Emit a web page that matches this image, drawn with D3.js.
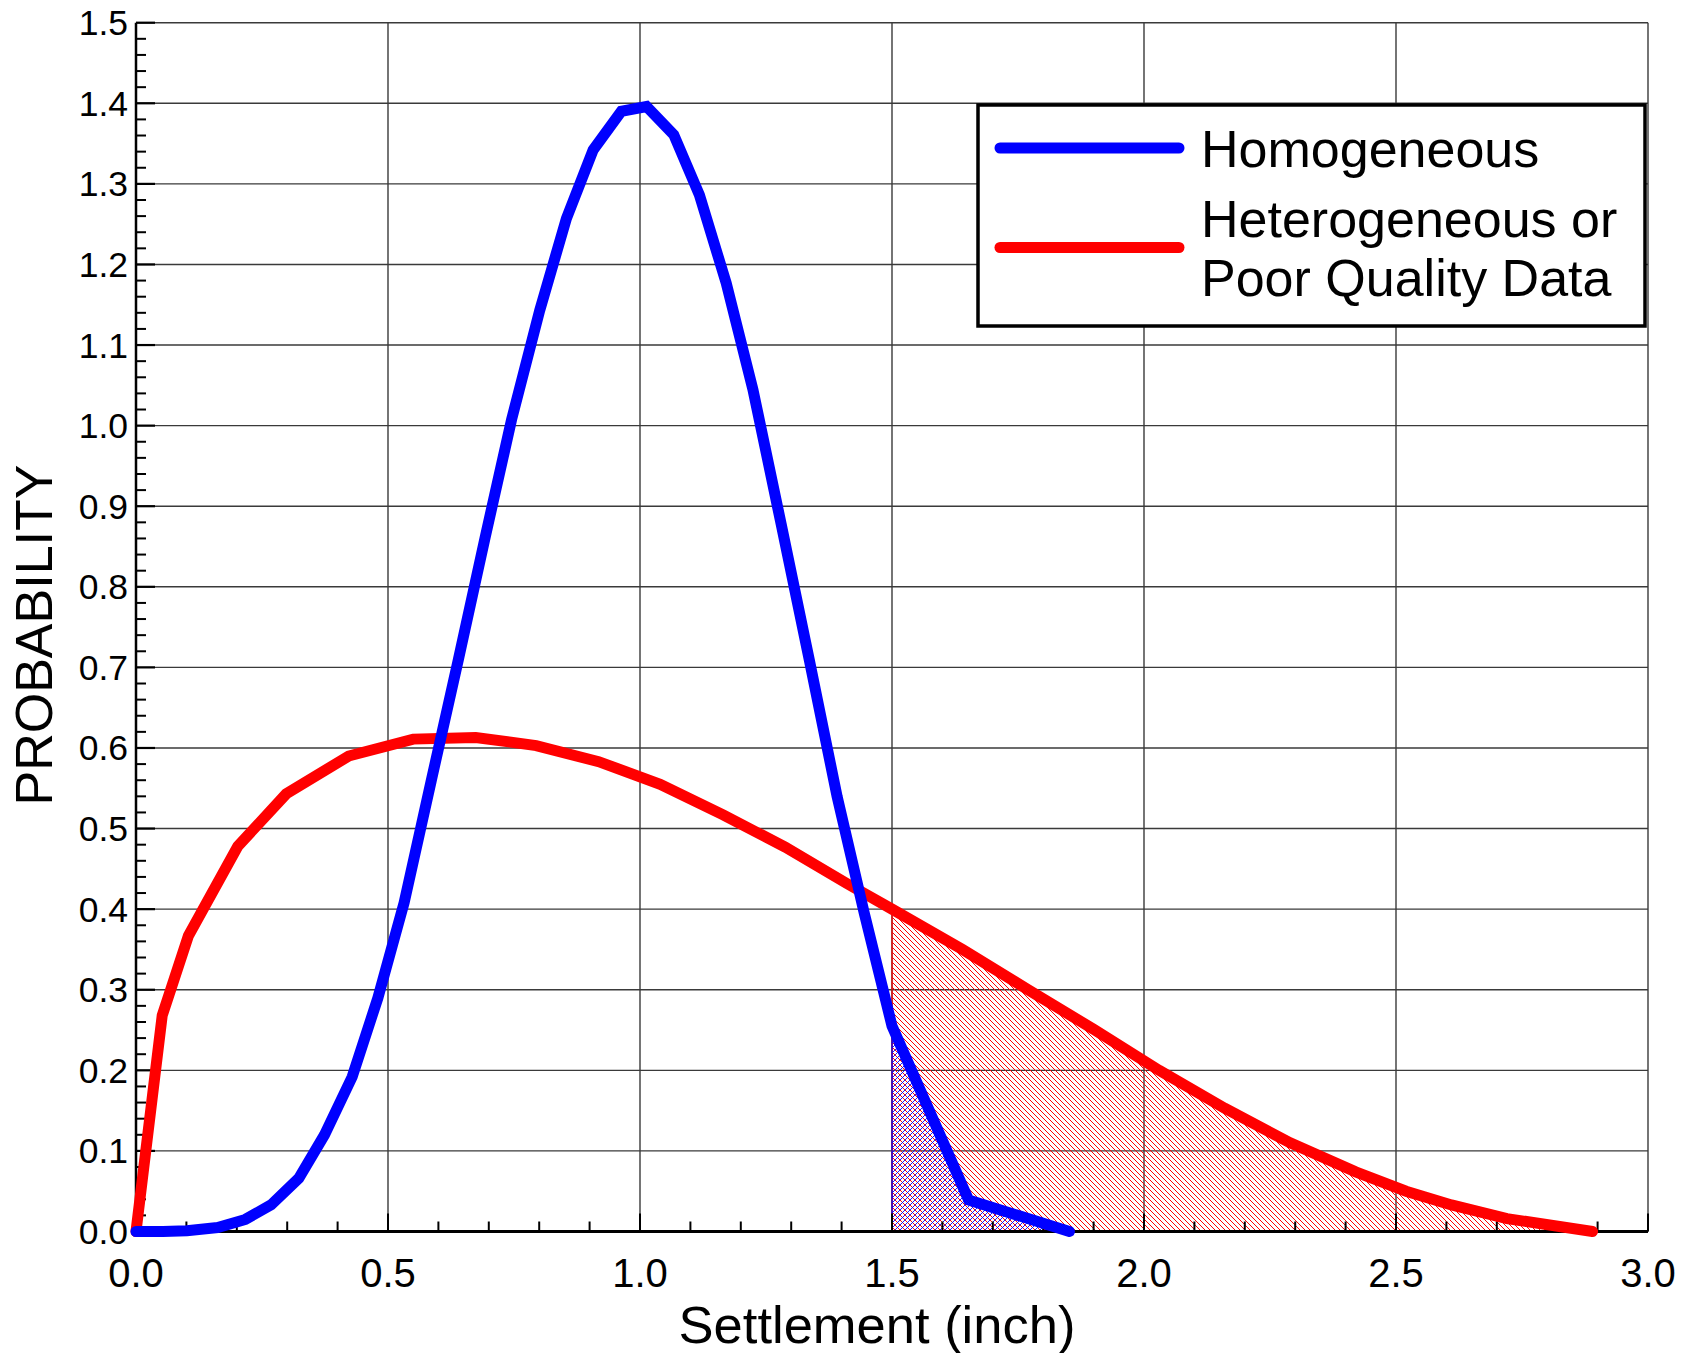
<!DOCTYPE html>
<html>
<head>
<meta charset="utf-8">
<script src="https://cdn.jsdelivr.net/npm/d3@7"></script>
<style>
  html, body { margin: 0; padding: 0; background: #fff; }
  svg { display: block; }
  text { font-family: "Liberation Sans", Arial, sans-serif; fill: #000; }
</style>
</head>
<body>
<svg id="chart" width="1694" height="1353"></svg>
<script>
// ---------------- data ----------------
const seriesNames = ["Homogeneous", "Heterogeneous or|Poor Quality Data"];

const homogeneousX = [0, 0.0535, 0.101, 0.162, 0.217, 0.268, 0.323, 0.374, 0.429, 0.480, 0.532, 0.586, 0.639, 0.693, 0.745, 0.801, 0.854, 0.907, 0.963, 1.013, 1.067, 1.118, 1.171, 1.224, 1.280, 1.336, 1.391, 1.445, 1.5, 1.652, 1.852];
const homogeneousY = [0, 0, 0.001, 0.005, 0.015, 0.033, 0.066, 0.120, 0.192, 0.290, 0.408, 0.560, 0.708, 0.862, 1.007, 1.143, 1.257, 1.342, 1.390, 1.396, 1.361, 1.286, 1.177, 1.045, 0.878, 0.709, 0.540, 0.395, 0.255, 0.039, 0];

const heterogeneousX = [0, 0.052, 0.104, 0.202, 0.298, 0.422, 0.550, 0.674, 0.794, 0.918, 1.040, 1.165, 1.288, 1.41, 1.5, 1.64, 1.77, 1.9, 2.03, 2.16, 2.29, 2.42, 2.52, 2.61, 2.72, 2.89];
const heterogeneousY = [0, 0.268, 0.367, 0.478, 0.543, 0.590, 0.611, 0.613, 0.603, 0.583, 0.555, 0.517, 0.477, 0.432, 0.400, 0.350, 0.300, 0.251, 0.200, 0.153, 0.110, 0.074, 0.050, 0.033, 0.016, 0];

const shadeFrom = 1.5;

const xTickValues = [0.0, 0.5, 1.0, 1.5, 2.0, 2.5, 3.0];
const xMinorValues = [0.1,0.2,0.3,0.4,0.6,0.7,0.8,0.9,1.1,1.2,1.3,1.4,1.6,1.7,1.8,1.9,2.1,2.2,2.3,2.4,2.6,2.7,2.8,2.9];
const yTickValues = [0.0,0.1,0.2,0.3,0.4,0.5,0.6,0.7,0.8,0.9,1.0,1.1,1.2,1.3,1.4,1.5];
const yMinorValues = d3.range(0, 76).map(i => i * 0.02).filter(v => Math.abs(v*10 - Math.round(v*10)) > 1e-6);

const xLabel = "Settlement (inch)";
const yLabel = "PROBABILITY";

// ---------------- layout ----------------
const svg = d3.select("#chart");
const x = d3.scaleLinear().domain([0, 3]).range([136, 1648]);
const y = d3.scaleLinear().domain([0, 1.5]).range([1231.5, 22.7]);

const blue = "#0000ff", red = "#ff0000";

// patterns
const defs = svg.append("defs");
const pr = defs.append("pattern").attr("id", "hatchRed").attr("patternUnits", "userSpaceOnUse")
  .attr("width", 5).attr("height", 5);
pr.append("path").attr("d", "M-1,-1 L6,6 M-1,4 L1,6 M4,-1 L6,1")
  .attr("stroke", red).attr("stroke-width", 1).attr("fill", "none");
const pb = defs.append("pattern").attr("id", "hatchBlue").attr("patternUnits", "userSpaceOnUse")
  .attr("width", 5).attr("height", 5);
pb.append("path").attr("d", "M-1,6 L6,-1 M-1,1 L1,-1 M4,6 L6,4")
  .attr("stroke", blue).attr("stroke-width", 0.9).attr("fill", "none");

// gridlines
const grid = svg.append("g");
grid.selectAll("line.h").data(yTickValues.slice(1)).join("line")
  .attr("x1", x(0)).attr("x2", x(3)).attr("y1", d => y(d)).attr("y2", d => y(d))
  .attr("stroke", "#3a3a3a").attr("stroke-width", 1.4);
grid.selectAll("line.v").data(xTickValues.slice(1)).join("line")
  .attr("y1", y(0)).attr("y2", y(1.5)).attr("x1", d => x(d)).attr("x2", d => x(d))
  .attr("stroke", "#3a3a3a").attr("stroke-width", 1.4);

// shaded areas
const redPts = heterogeneousX.map((v, i) => [v, heterogeneousY[i]]).filter(p => p[0] >= shadeFrom);
const bluePts = homogeneousX.map((v, i) => [v, homogeneousY[i]]).filter(p => p[0] >= shadeFrom);
const area = d3.area().x(d => x(d[0])).y0(y(0)).y1(d => y(d[1]));
svg.append("path").datum(redPts).attr("d", area)
  .attr("fill", "url(#hatchRed)").attr("stroke", red).attr("stroke-width", 1.2);
svg.append("path").datum(bluePts).attr("d", area)
  .attr("fill", "url(#hatchBlue)").attr("stroke", blue).attr("stroke-width", 1.2);

// axes
const yAxis = svg.append("g");
yAxis.append("line").attr("x1", x(0)).attr("x2", x(0)).attr("y1", y(0)).attr("y2", y(1.5))
  .attr("stroke", "#000").attr("stroke-width", 2.5);
yAxis.selectAll("line.maj").data(yTickValues).join("line")
  .attr("x1", x(0)).attr("x2", x(0) + 19).attr("y1", d => y(d)).attr("y2", d => y(d))
  .attr("stroke", "#000").attr("stroke-width", 2.2);
yAxis.selectAll("line.min").data(yMinorValues).join("line")
  .attr("x1", x(0)).attr("x2", x(0) + 10).attr("y1", d => y(d)).attr("y2", d => y(d))
  .attr("stroke", "#000").attr("stroke-width", 2);
yAxis.selectAll("text").data(yTickValues).join("text")
  .attr("x", 128).attr("y", d => y(d) + 12.5)
  .attr("text-anchor", "end").attr("font-size", 35.5)
  .text(d => d3.format(".1f")(d));

const xAxis = svg.append("g");
xAxis.append("line").attr("x1", x(0)).attr("x2", x(3)).attr("y1", y(0)).attr("y2", y(0))
  .attr("stroke", "#000").attr("stroke-width", 3);
xAxis.selectAll("line.maj").data(xTickValues).join("line")
  .attr("x1", d => x(d)).attr("x2", d => x(d)).attr("y1", y(0)).attr("y2", y(0) - 18)
  .attr("stroke", "#000").attr("stroke-width", 2);
xAxis.selectAll("line.min").data(xMinorValues).join("line")
  .attr("x1", d => x(d)).attr("x2", d => x(d)).attr("y1", y(0)).attr("y2", y(0) - 10)
  .attr("stroke", "#000").attr("stroke-width", 2);
xAxis.selectAll("text").data(xTickValues).join("text")
  .attr("x", d => x(d)).attr("y", 1287)
  .attr("text-anchor", "middle").attr("font-size", 40)
  .text(d => d3.format(".1f")(d));

// axis titles
svg.append("text").attr("x", 877).attr("y", 1343).attr("text-anchor", "middle")
  .attr("font-size", 52.5).text(xLabel);
svg.append("text").attr("transform", "translate(52,635) rotate(-90)").attr("text-anchor", "middle")
  .attr("font-size", 52).text(yLabel);

// curves
const line = d3.line().x(d => x(d[0])).y(d => y(d[1]));
svg.append("path").datum(heterogeneousX.map((v, i) => [v, heterogeneousY[i]])).attr("d", line)
  .attr("fill", "none").attr("stroke", red).attr("stroke-width", 11)
  .attr("stroke-linecap", "round").attr("stroke-linejoin", "miter");
svg.append("path").datum(homogeneousX.map((v, i) => [v, homogeneousY[i]])).attr("d", line)
  .attr("fill", "none").attr("stroke", blue).attr("stroke-width", 11)
  .attr("stroke-linecap", "round").attr("stroke-linejoin", "miter");

// legend
const lg = svg.append("g");
lg.append("rect").attr("x", 978).attr("y", 105).attr("width", 667).attr("height", 221)
  .attr("fill", "#fff").attr("stroke", "#000").attr("stroke-width", 3.5);
const legendItems = [
  { color: blue, lineY: 148, lines: seriesNames[0].split("|"), textY: [167] },
  { color: red, lineY: 247.5, lines: seriesNames[1].split("|"), textY: [237, 296] }
];
legendItems.forEach(it => {
  lg.append("line").attr("x1", 1000).attr("x2", 1179).attr("y1", it.lineY).attr("y2", it.lineY)
    .attr("stroke", it.color).attr("stroke-width", 11).attr("stroke-linecap", "round");
  it.lines.forEach((t, j) => {
    lg.append("text").attr("x", 1201).attr("y", it.textY[j]).attr("font-size", 52).text(t);
  });
});
</script>
</body>
</html>
